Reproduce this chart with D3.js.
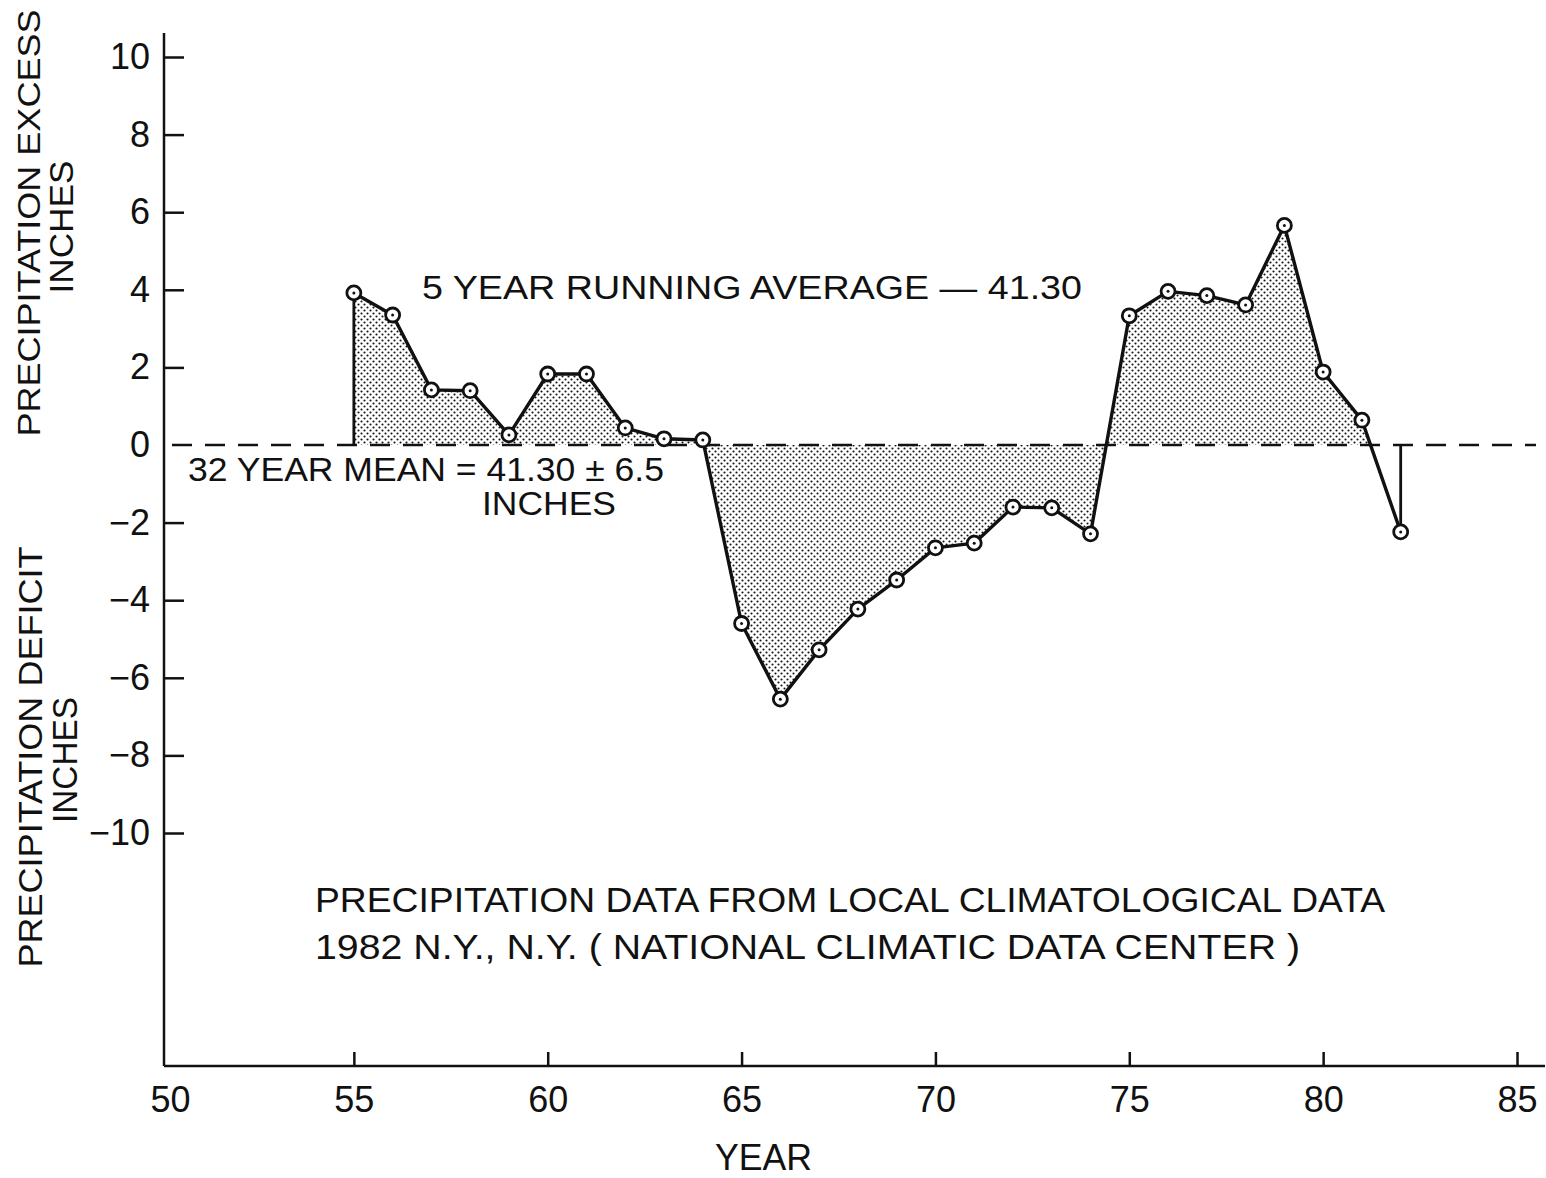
<!DOCTYPE html>
<html>
<head>
<meta charset="utf-8">
<title>Precipitation excess / deficit</title>
<script src="https://cdn.jsdelivr.net/npm/d3@7"></script>
<style>
  body { margin: 0; background: #fff; }
  text { font-family: "Liberation Sans", Arial, sans-serif; fill: #111; }
  .axis text { font-size: 36px; }
  .axis line { stroke: #111; stroke-width: 2.5; }
</style>
</head>
<body>
<div id="chart"></div>
<script>
// data (5 year running average minus 41.30 in)
var years = [55, 56, 57, 58, 59, 60, 61, 62, 63, 64, 65, 66, 67, 68,
             69, 70, 71, 72, 73, 74, 75, 76, 77, 78, 79, 80, 81, 82];
var values = [3.92, 3.35, 1.42, 1.40, 0.26, 1.83, 1.83, 0.44, 0.16, 0.13,
              -4.60, -6.55, -5.28, -4.23, -3.48, -2.65, -2.53, -1.60, -1.62, -2.29,
              3.33, 3.96, 3.85, 3.61, 5.66, 1.88, 0.64, -2.24];
var xTicks = [50, 55, 60, 65, 70, 75, 80, 85];
var yTicks = [10, 8, 6, 4, 2, 0, -2, -4, -6, -8, -10];

var width = 1546, height = 1178;
var axisX = 164, axisY = 1066;

var svg = d3.select("#chart").append("svg")
    .attr("width", width)
    .attr("height", height);

var x = d3.scaleLinear().domain([50, 85]).range([160, 1517]);
var y = d3.scaleLinear().domain([-10, 10]).range([833, 57]);

var data = years.map(function(yr, i) { return {year: yr, v: values[i]}; });

// stipple pattern for the shaded area
var pat = svg.append("defs").append("pattern")
    .attr("id", "stipple")
    .attr("patternUnits", "userSpaceOnUse")
    .attr("width", 6).attr("height", 6);
pat.append("circle").attr("cx", 1.5).attr("cy", 1.5).attr("r", 1.05).attr("fill", "#111");
pat.append("circle").attr("cx", 4.5).attr("cy", 4.5).attr("r", 1.05).attr("fill", "#111");

// shaded area runs to where the curve crosses zero between 81 and 82
var last = data.length - 1;
var a = data[last - 1], b = data[last];
var crossYear = a.year + a.v / (a.v - b.v);
var areaData = data.slice(0, last).concat([{year: crossYear, v: 0}]);

var area = d3.area()
    .x(function(d) { return x(d.year); })
    .y0(y(0))
    .y1(function(d) { return y(d.v); });

svg.append("path")
    .datum(areaData)
    .attr("d", area)
    .attr("fill", "url(#stipple)");

// axes lines
svg.append("line")
    .attr("x1", axisX).attr("x2", axisX)
    .attr("y1", 33).attr("y2", axisY)
    .attr("stroke", "#111").attr("stroke-width", 2.5);
svg.append("line")
    .attr("x1", axisX).attr("x2", 1545)
    .attr("y1", axisY).attr("y2", axisY)
    .attr("stroke", "#111").attr("stroke-width", 2.5);

// y axis: ticks point inward
var yAxis = svg.append("g")
    .attr("class", "axis")
    .attr("transform", "translate(" + axisX + ",0)")
    .call(d3.axisLeft(y)
        .tickValues(yTicks)
        .tickSize(-20)
        .tickPadding(14)
        .tickFormat(function(d) { return d < 0 ? "\u2212" + (-d) : d; }));
yAxis.select(".domain").remove();
yAxis.selectAll(".tick").filter(function(d) { return d === 0; }).select("line").remove();

// x axis: ticks point up
var xAxis = svg.append("g")
    .attr("class", "axis")
    .attr("transform", "translate(0," + axisY + ")")
    .call(d3.axisBottom(x)
        .tickValues(xTicks)
        .tickSize(-14)
        .tickPadding(20));
xAxis.select(".domain").remove();
xAxis.selectAll(".tick").filter(function(d) { return d === 50; }).select("line").remove();
xAxis.selectAll(".tick").filter(function(d) { return d === 50; }).select("text").attr("dx", 10);

// zero line (32 year mean)
svg.append("line")
    .attr("x1", 172).attr("x2", 1536)
    .attr("y1", y(0)).attr("y2", y(0))
    .attr("stroke", "#111").attr("stroke-width", 2.5)
    .attr("stroke-dasharray", "20,13");

// end drops to the zero line
[data[0], data[last]].forEach(function(d) {
  svg.append("line")
      .attr("x1", x(d.year)).attr("x2", x(d.year))
      .attr("y1", y(0)).attr("y2", y(d.v))
      .attr("stroke", "#111").attr("stroke-width", 2.8);
});

// running average line
var line = d3.line()
    .x(function(d) { return x(d.year); })
    .y(function(d) { return y(d.v); });

svg.append("path")
    .datum(data)
    .attr("d", line)
    .attr("fill", "none")
    .attr("stroke", "#111")
    .attr("stroke-width", 3.4)
    .attr("stroke-linejoin", "round");

// point markers: ring with a centre dot
var pts = svg.selectAll(".pt")
    .data(data)
    .enter().append("g")
    .attr("class", "pt")
    .attr("transform", function(d) { return "translate(" + x(d.year) + "," + y(d.v) + ")"; });
pts.append("circle").attr("r", 7).attr("fill", "#fff").attr("stroke", "#111").attr("stroke-width", 2.8);
pts.append("circle").attr("r", 1.5).attr("fill", "#111");

// text labels
function label(txt, px, py, size, len) {
  svg.append("text")
      .attr("x", px).attr("y", py)
      .attr("font-size", size)
      .attr("textLength", len)
      .attr("lengthAdjust", "spacingAndGlyphs")
      .text(txt);
}
label("5 YEAR RUNNING AVERAGE \u2014 41.30", 422, 299, 34, 660);
label("32 YEAR MEAN = 41.30 \u00b1 6.5", 188, 481, 34, 476);
label("INCHES", 482, 515, 33, 134);
label("PRECIPITATION DATA FROM LOCAL CLIMATOLOGICAL DATA", 315, 912, 35, 1070);
label("1982  N.Y., N.Y. ( NATIONAL CLIMATIC DATA CENTER )", 315, 959, 35, 985);
label("YEAR", 715, 1170, 37, 97);

// rotated y titles
function vlabel(txt, cx, cy, size, len) {
  svg.append("text")
      .attr("transform", "translate(" + cx + "," + cy + ") rotate(-90)")
      .attr("text-anchor", "middle")
      .attr("font-size", size)
      .attr("textLength", len)
      .attr("lengthAdjust", "spacingAndGlyphs")
      .text(txt);
}
vlabel("PRECIPITATION EXCESS", 40, 223, 31, 427);
vlabel("INCHES", 73, 227, 34, 133);
vlabel("PRECIPITATION DEFICIT", 42, 757, 33, 421);
vlabel("INCHES", 77, 760, 35, 126);
</script>
</body>
</html>
